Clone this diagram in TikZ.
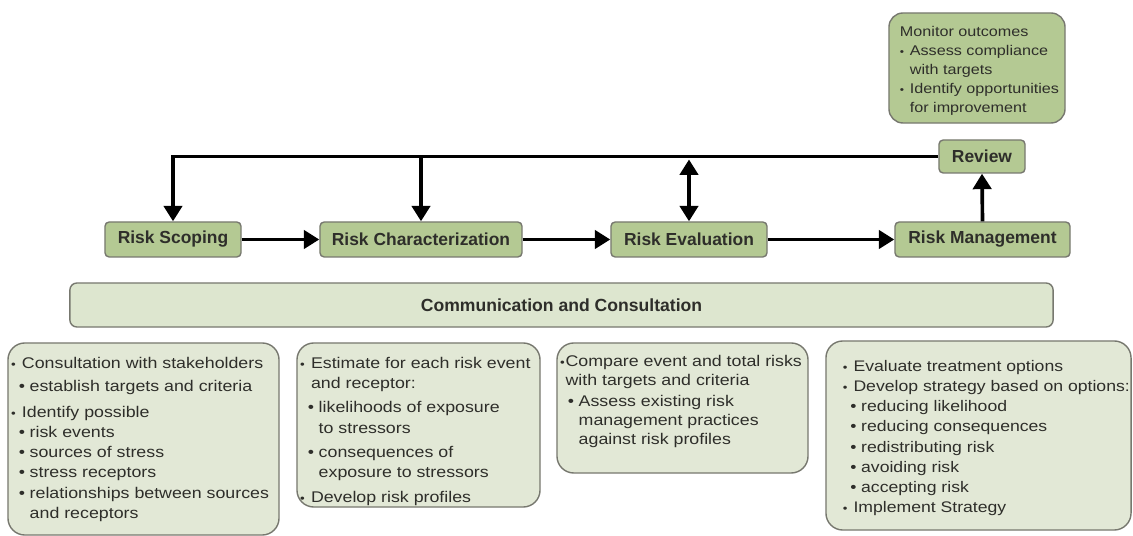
\documentclass[tikz,border=0pt]{standalone}
\usepackage{fontspec}
\setmainfont{Liberation Sans}
\newfontfamily\bodyfont[FakeStretch=1.15]{Liberation Sans}
\usetikzlibrary{positioning,calc,arrows.meta}
\definecolor{boxgreen}{HTML}{B4C993}
\definecolor{palegreen}{HTML}{E2E8D6}
\definecolor{commgreen}{HTML}{DDE6CF}
\definecolor{edgegray}{HTML}{77786F}
\definecolor{txtgray}{HTML}{2E2E2A}
\newcommand{\lvA}{\makebox[0.7em][l]{\scalebox{0.75}{\textbullet}}}
\newcommand{\lvB}{\hspace*{0.5em}\makebox[0.7em][l]{\textbullet}}
\newcommand{\cntA}{\hspace*{0.7em}}
\newcommand{\cntB}{\hspace*{1.2em}}
\newcommand{\notebody}[4][0pt]{\begin{minipage}[c][#3][t]{#2}%
  \begin{tabular}{@{\hspace*{#1}}l@{}}#4\end{tabular}\end{minipage}}
\tikzset{
  fat/.tip     = {Triangle[length=11pt,width=13pt]},
  stage/.style = {draw=edgegray, fill=boxgreen, rounded corners=3pt, line width=1pt,
                  minimum height=0.875cm, inner sep=2pt, text=txtgray,
                  font=\fontsize{12.4}{14}\selectfont\bfseries},
  note/.style  = {draw=edgegray, fill=palegreen, rounded corners=12pt, line width=1pt,
                  inner xsep=0.08cm, inner ysep=0.275cm, text=txtgray,
                  font=\bodyfont\fontsize{11}{14.4}\selectfont},
  comm/.style  = {draw=edgegray, fill=commgreen, rounded corners=5pt, line width=1pt,
                  minimum width=24.575cm, minimum height=1.1cm, text=txtgray,
                  font=\fontsize{12.5}{14}\selectfont\bfseries},
  flow/.style  = {line width=2.6pt, -fat},
}
\begin{document}
\begin{tikzpicture}[x=0.025cm,y=-0.025cm]
  \useasboundingbox (0,0) rectangle (1133,536);
  % stages
  \node[stage, minimum width=3.4cm]   (scope) at (173,239.5)   {Risk Scoping};
  \node[stage, minimum width=5.05cm]  (charz) at (421,239.5)   {Risk Characterization};
  \node[stage, minimum width=3.9cm]   (evalu) at (689,239.5)   {Risk Evaluation};
  \node[stage, minimum width=4.375cm] (manag) at (982.5,239.5) {Risk Management};
  \node[stage, minimum width=2.15cm, minimum height=0.825cm] (review) at (982,156.5) {Review};
  \node[stage, rounded corners=10pt, inner xsep=0.275cm, inner ysep=0.25cm,
        font=\bodyfont\fontsize{10}{13.5}\selectfont]
        (monit) at (977,68)
        {\notebody{3.85cm}{2.25cm}{Monitor outcomes\\
         \lvA Assess compliance\\ \cntA with targets\\
         \lvA Identify opportunities\\ \cntA for improvement}};
  \node[comm] (commu) at (561.5,305) {Communication and Consultation};
  % feedback loop
  \coordinate (c1) at (charz.north |- review.west);
  \coordinate (e1) at ($(evalu.north |- review.west)+(0,3)$);
  \draw[flow] (review.west) -| (scope.north);
  \draw[flow] (c1) -- (charz.north);
  \draw[flow, fat-fat] (e1) -- (evalu.north);
  \draw[flow] (manag.north) -- (review.south);
  % main chain
  \draw[flow] (scope) -- (charz);
  \draw[flow] (charz) -- (evalu);
  \draw[flow] (evalu) -- (manag);
  % notes
  \node[note] (note1) at (143.5,439) {\notebody{6.615cm}{4.25cm}{%
    \lvA Consultation with stakeholders\\[2pt]
    \lvB establish targets and criteria\\[4pt]
    \lvA Identify possible\\
    \lvB risk events\\
    \lvB sources of stress\\
    \lvB stress receptors\\
    \lvB relationships between sources\\
    \cntB and receptors}};
  \node[note] (note2) at (418.5,425) {\notebody{5.915cm}{3.55cm}{%
    \lvA Estimate for each risk event\\
    \cntA and receptor:\\[3pt]
    \lvB likelihoods of exposure\\
    \cntB to stressors\\[3pt]
    \lvB consequences of\\
    \cntB exposure to stressors\\[3pt]
    \lvA Develop risk profiles}};
  \node[note, font=\bodyfont\fontsize{11}{13.2}\selectfont] (note3) at (682.5,408)
    {\notebody{6.115cm}{2.7cm}{%
    \makebox[0.35em][l]{\scalebox{0.75}{\textbullet}}Compare event and total risks\\
    \hspace*{0.35em}with targets and criteria\\[2pt]
    \lvB Assess existing risk\\
    \cntB management practices\\
    \cntB against risk profiles}};
  \node[note, inner ysep=0.4cm, font=\bodyfont\fontsize{10.9}{14.4}\selectfont]
    (note4) at (978.5,435.5) {\notebody[0.34cm]{7.465cm}{3.925cm}{%
    \lvA Evaluate treatment options\\
    \lvA Develop strategy based on options:\\
    \lvB reducing likelihood\\
    \lvB reducing consequences\\
    \lvB redistributing risk\\
    \lvB avoiding risk\\
    \lvB accepting risk\\
    \lvA Implement Strategy}};
\end{tikzpicture}
\end{document}
